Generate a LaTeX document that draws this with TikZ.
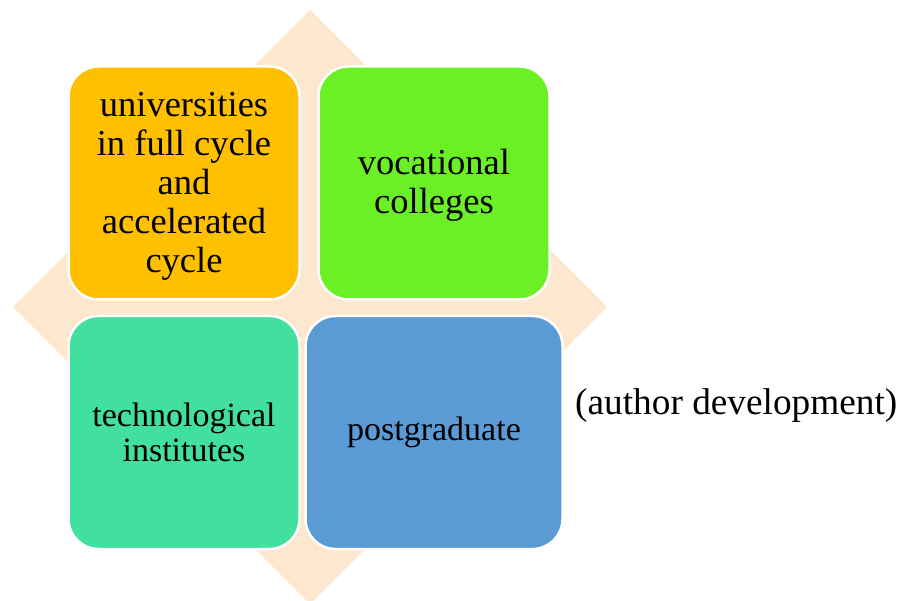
\documentclass[tikz,border=0pt]{standalone}
\usepackage{fontspec}
\setmainfont{Liberation Serif}
\definecolor{peach}{HTML}{FDE7CF}
\definecolor{orng}{HTML}{FFC000}
\definecolor{grn}{HTML}{6AF024}
\definecolor{teal2}{HTML}{41E09E}
\definecolor{blu}{HTML}{5B9BD5}
\begin{document}
\begin{tikzpicture}[x=1pt,y=-1pt,
  tile/.style={draw=white,line width=2.5pt,rounded corners=30pt,inner sep=0pt,align=center,text=black},
  bigtxt/.style={font=\fontsize{36.5}{39}\selectfont},
  smalltxt/.style={font=\fontsize{34}{35}\selectfont}]
\useasboundingbox (0,0) rectangle (899,601);
\fill[peach] (310,10) -- (607,307) -- (310,604) -- (13,307) -- cycle;
\node[tile,fill=orng,minimum width=231pt,minimum height=233pt] (uni) at (184,183) {};
\node[bigtxt,align=center,inner sep=0pt] (unitxt) at ([yshift=-3pt]uni.center) {universities\\in full cycle\\and\\accelerated\\cycle};
\node[tile,fill=grn,minimum width=231pt,minimum height=233pt] (voc) at (434,183) {};
\node[bigtxt,align=center,inner sep=0pt] (voctxt) at ([yshift=-2pt]voc.center) {vocational\\colleges};
\node[tile,smalltxt,fill=teal2,minimum width=231pt,minimum height=233pt] (tech) at (184,432.5) {technological\\institutes};
\node[tile,smalltxt,fill=blu,minimum width=257pt,minimum height=233pt] (post) at (434,432.5) {postgraduate};
\node[font=\fontsize{37.3}{39}\selectfont,inner sep=0pt,anchor=west] (auth) at (575,406) {(author development)};
\end{tikzpicture}
\end{document}
